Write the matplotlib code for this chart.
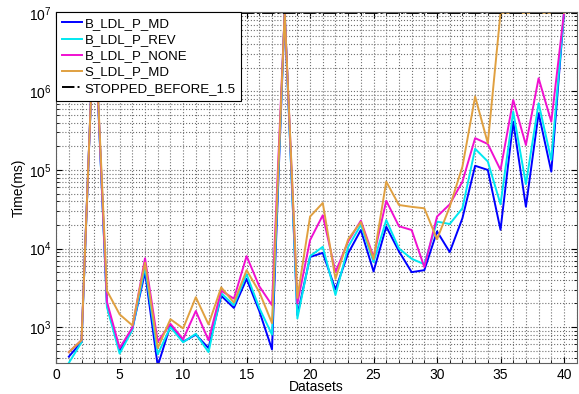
import numpy as np
import matplotlib
matplotlib.use("Agg")
import matplotlib.pyplot as plt
from matplotlib.ticker import LogLocator, MultipleLocator, NullFormatter

# Run times per dataset (ms)
datasets = np.arange(1, 41)
b_ldl_p_md = [420, 650, 1e7, 1900, 500, 950, 5000, 320, 1050, 650,
              800, 540, 2500, 1750, 4100, 1600, 520, 1e7, 1420, 7800,
              8800, 3000, 8700, 17200, 5100, 19000, 9200, 5000, 5300, 16500,
              9000, 24300, 113000, 100000, 17300, 412000, 34000, 527000, 95000, 1e7]
b_ldl_p_rev = [350, 640, 1e7, 1800, 460, 920, 5800, 450, 1000, 640,
               820, 480, 2700, 1900, 4700, 1750, 800, 1e7, 1290, 8000,
               10500, 2560, 10500, 20000, 6700, 23000, 10000, 7400, 6300, 22000,
               20500, 32500, 186000, 128000, 36500, 553000, 66000, 707000, 134000, 1e7]
b_ldl_p_none = [480, 680, 1e7, 2100, 540, 980, 7500, 650, 1100, 700,
                1600, 680, 2900, 2300, 8000, 3300, 1900, 1e7, 2000, 12800,
                26500, 5000, 12300, 22600, 7800, 40500, 19200, 17200, 5800, 25500,
                36500, 71000, 254000, 214000, 100000, 780000, 208000, 1470000, 412000, 1e7]
s_ldl_p_md = [480, 680, 1e7, 2900, 1450, 1050, 6600, 540, 1260, 960,
              2400, 1080, 3200, 2050, 5300, 2800, 1120, 1e7, 2350, 25500,
              38000, 4100, 13100, 21700, 7300, 71000, 35800, 33900, 32500, 13100,
              34000, 110000, 860000, 219000, 1e7, 1e7, 1e7, 1e7, 1e7, 1e7]
stopped_limit = 1e7

plt.rcParams['font.family'] = ['Liberation Sans', 'DejaVu Sans']

fig = plt.figure(figsize=(5.79, 3.94), dpi=100)
ax = fig.add_axes([0.097, 0.079, 0.899, 0.891])

ax.plot(datasets, b_ldl_p_md, color='#0000ff', lw=1.4, label='B_LDL_P_MD')
ax.plot(datasets, b_ldl_p_rev, color='#00e8f0', lw=1.4, label='B_LDL_P_REV')
ax.plot(datasets, b_ldl_p_none, color='#f010d0', lw=1.4, label='B_LDL_P_NONE')
ax.plot(datasets, s_ldl_p_md, color='#e0a040', lw=1.4, label='S_LDL_P_MD')
ax.axhline(stopped_limit, color='black', lw=1.4, linestyle='-.', label='STOPPED_BEFORE_1.5')

ax.set_yscale('log')
ax.set_xlim(0, 41)
ax.set_ylim(350, 1.03e7)
ax.xaxis.set_major_locator(MultipleLocator(5))
ax.xaxis.set_minor_locator(MultipleLocator(1))
ax.yaxis.set_major_locator(LogLocator(base=10, numticks=10))
ax.yaxis.set_minor_locator(LogLocator(base=10, subs=np.arange(2, 10), numticks=10))
ax.yaxis.set_minor_formatter(NullFormatter())

ax.grid(True, which='both', color='#707070', linestyle=':', lw=0.8)
ax.tick_params(which='both', direction='in', top=True, right=True, labelsize=10)
ax.tick_params(which='major', length=4)
ax.tick_params(which='minor', length=2)
for spine in ax.spines.values():
    spine.set_color('#606060')

ax.set_xlabel('Datasets', fontsize=10, labelpad=-1)
ax.set_ylabel('Time(ms)', fontsize=10, labelpad=2)

leg = ax.legend(loc='upper left', fontsize=9.5, handlelength=1.5, handletextpad=0.2,
                borderaxespad=0.0, borderpad=0.45, labelspacing=0.3, fancybox=False,
                framealpha=1.0, edgecolor='black')
leg.get_frame().set_linewidth(0.8)

fig.savefig('out.png', dpi=100)
